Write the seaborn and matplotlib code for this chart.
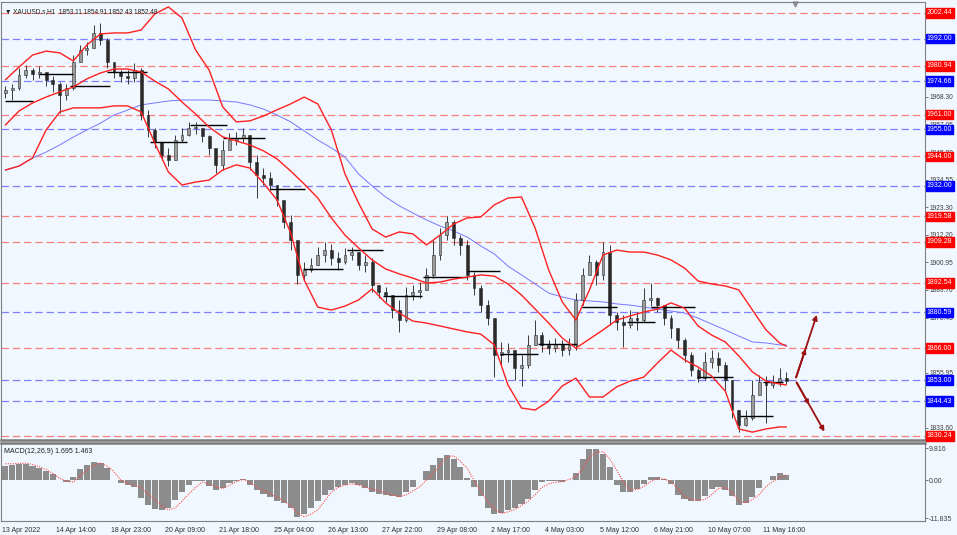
import numpy as np
import pandas as pd
import seaborn as sns
import matplotlib
matplotlib.use("Agg")
import matplotlib.pyplot as plt
from matplotlib.patches import Rectangle

# XAUUSD H1, each candle here = 4 hourly bars
closes = [1971.1, 1971.9, 1977.2, 1979.2, 1977.6, 1978.4, 1975.2, 1973.5, 1969.1, 1971.9,
          1982.5, 1987.4, 1988.2, 1994.3, 1991.4, 1982.5, 1978.4, 1976.8, 1976.0, 1979.2,
          1960.9, 1954.8, 1949.9, 1944.6, 1942.6, 1950.7, 1952.8, 1955.6, 1955.6, 1952.4,
          1947.5, 1940.6, 1946.7, 1950.7, 1951.6, 1952.8, 1941.8, 1936.5, 1935.3, 1932.4,
          1926.3, 1917.3, 1910.0, 1895.8, 1897.8, 1899.8, 1903.9, 1905.9, 1902.7, 1901.1,
          1903.9, 1905.1, 1899.8, 1901.1, 1891.7, 1888.8, 1887.6, 1881.5, 1877.4, 1887.6,
          1888.8, 1889.7, 1895.8, 1903.9, 1912.0, 1917.3, 1910.8, 1908.0, 1895.8, 1890.5,
          1883.5, 1878.2, 1863.2, 1864.4, 1865.2, 1857.9, 1859.1, 1867.3, 1871.3, 1867.3,
          1866.0, 1867.7, 1865.2, 1867.3, 1885.6, 1895.8, 1901.1, 1895.8, 1905.1, 1879.5,
          1876.6, 1875.4, 1878.2, 1877.4, 1885.6, 1886.4, 1883.5, 1878.2, 1874.2, 1869.3,
          1863.2, 1857.1, 1853.8, 1860.3, 1862.0, 1859.1, 1853.0, 1840.8, 1834.7, 1837.5,
          1846.9, 1852.2, 1851.0, 1852.2, 1853.8, 1852.5]
highs = [1972.7, 1973.5, 1980.0, 1981.3, 1980.0, 1980.9, 1978.4, 1976.8, 1974.3, 1973.5,
         1985.3, 1989.4, 1990.6, 1997.6, 1998.4, 1992.3, 1981.7, 1979.2, 1979.2, 1982.1,
         1980.0, 1963.0, 1955.6, 1949.9, 1947.5, 1952.8, 1955.6, 1958.1, 1958.1, 1955.6,
         1952.8, 1946.7, 1950.7, 1953.6, 1954.0, 1955.6, 1952.8, 1944.6, 1939.3, 1937.7,
         1932.4, 1924.3, 1920.2, 1908.0, 1901.1, 1902.7, 1907.2, 1909.2, 1908.4, 1905.1,
         1906.8, 1907.2, 1905.1, 1903.9, 1902.7, 1891.7, 1890.9, 1887.6, 1885.6, 1890.9,
         1891.7, 1892.9, 1898.6, 1910.0, 1914.9, 1919.8, 1918.2, 1912.0, 1910.0, 1897.0,
         1891.7, 1885.6, 1878.2, 1868.5, 1868.1, 1865.2, 1863.2, 1871.3, 1877.4, 1872.6,
         1869.3, 1870.1, 1869.3, 1870.1, 1888.4, 1898.6, 1903.9, 1901.9, 1909.2, 1908.0,
         1880.7, 1879.5, 1881.5, 1880.7, 1890.5, 1892.5, 1886.8, 1883.5, 1879.5, 1874.2,
         1870.1, 1864.4, 1857.9, 1864.4, 1865.2, 1864.4, 1860.3, 1851.0, 1840.8, 1840.8,
         1853.0, 1855.0, 1854.6, 1855.0, 1857.9, 1856.3]
lows = [1967.8, 1967.0, 1971.1, 1976.0, 1975.2, 1976.0, 1972.7, 1970.3, 1961.7, 1967.0,
        1971.1, 1982.5, 1985.3, 1988.2, 1989.4, 1980.0, 1976.0, 1974.3, 1973.5, 1974.3,
        1958.9, 1952.0, 1947.5, 1942.6, 1940.1, 1942.6, 1949.9, 1952.4, 1953.2, 1949.9,
        1944.6, 1937.3, 1938.5, 1947.9, 1948.7, 1949.9, 1938.5, 1927.1, 1932.4, 1930.4,
        1923.9, 1914.9, 1905.9, 1892.1, 1893.7, 1897.0, 1899.8, 1901.1, 1899.8, 1897.8,
        1900.2, 1901.9, 1897.8, 1897.0, 1888.8, 1886.4, 1884.8, 1878.2, 1872.6, 1876.6,
        1885.6, 1886.4, 1889.7, 1894.5, 1901.9, 1910.0, 1908.0, 1903.9, 1893.7, 1887.6,
        1880.7, 1875.4, 1854.2, 1859.1, 1860.3, 1853.0, 1850.6, 1857.9, 1867.3, 1864.4,
        1863.6, 1864.4, 1862.8, 1863.2, 1865.2, 1883.5, 1897.0, 1891.7, 1893.7, 1875.4,
        1873.4, 1866.4, 1874.2, 1873.4, 1876.6, 1883.1, 1880.7, 1875.4, 1870.1, 1866.0,
        1860.3, 1854.6, 1852.2, 1853.0, 1857.9, 1856.3, 1848.9, 1837.5, 1831.8, 1834.3,
        1836.7, 1848.1, 1835.5, 1849.7, 1850.6, 1851.4]
first_open = 1970.0

# Bollinger bands and moving average, sampled every 2 candles
band_idx = list(range(0, 115, 2)) + [115]
bb_upper = [1975.2, 1980.4, 1985.3, 1986.9, 1986.2, 1982.9, 1989.4, 1993.9, 1994.3, 1994.3,
            1995.5, 2002.0, 2004.9, 2000.4, 1987.4, 1979.2, 1964.2, 1958.1, 1958.5, 1960.5,
            1963.0, 1965.4, 1968.2, 1965.4, 1954.8, 1936.9, 1925.1, 1914.5, 1911.2, 1913.3,
            1912.5, 1908.0, 1912.0, 1916.5, 1919.0, 1919.4, 1924.3, 1927.1, 1927.5, 1914.9,
            1897.8, 1884.8, 1877.4, 1889.7, 1903.9, 1905.9, 1905.1, 1905.1, 1903.9, 1901.9,
            1898.6, 1893.3, 1892.1, 1891.3, 1889.7, 1881.5, 1873.4, 1868.1, 1866.8]
bb_middle = [1956.8, 1962.5, 1965.8, 1968.2, 1970.3, 1972.3, 1975.6, 1978.0, 1979.6, 1979.6,
             1978.4, 1974.7, 1971.5, 1966.2, 1961.3, 1956.0, 1952.0, 1950.3, 1948.7, 1946.3,
             1943.0, 1938.1, 1932.8, 1927.1, 1919.0, 1912.0, 1906.8, 1901.9, 1898.2, 1896.2,
             1894.5, 1892.5, 1892.9, 1894.1, 1894.9, 1895.8, 1895.3, 1892.1, 1887.6, 1881.9,
             1876.2, 1870.1, 1866.0, 1869.7, 1873.4, 1877.4, 1879.1, 1880.7, 1881.9, 1884.4,
             1882.3, 1875.0, 1871.3, 1868.5, 1862.8, 1856.3, 1852.6, 1851.4, 1851.0]
bb_lower = [1938.5, 1940.1, 1943.4, 1954.8, 1962.1, 1963.8, 1963.8, 1963.8, 1964.6, 1964.6,
            1962.1, 1949.5, 1937.7, 1932.4, 1933.6, 1934.4, 1938.5, 1940.6, 1939.3, 1933.2,
            1926.3, 1912.9, 1893.7, 1882.7, 1881.5, 1883.1, 1885.6, 1890.1, 1884.4, 1880.3,
            1877.0, 1876.2, 1875.0, 1873.8, 1872.6, 1871.7, 1867.3, 1851.0, 1841.6, 1840.8,
            1844.4, 1850.6, 1853.8, 1846.1, 1846.1, 1850.2, 1852.6, 1854.2, 1859.9, 1865.2,
            1861.2, 1858.3, 1854.6, 1848.5, 1833.1, 1831.8, 1833.1, 1833.9, 1833.9]
ma_line = [1938.5, 1940.1, 1943.4, 1945.8, 1948.7, 1951.9, 1954.8, 1957.6, 1960.9, 1962.9,
           1965.0, 1965.8, 1966.6, 1967.0, 1967.0, 1967.0, 1966.6, 1966.2, 1965.0, 1963.3,
           1960.9, 1958.1, 1954.4, 1950.7, 1947.5, 1943.8, 1936.9, 1932.0, 1927.5, 1923.9,
           1921.0, 1918.2, 1915.7, 1913.7, 1911.2, 1907.6, 1904.3, 1899.4, 1895.8, 1892.1,
           1888.4, 1886.8, 1885.6, 1885.2, 1884.8, 1884.0, 1883.5, 1882.7, 1881.9, 1881.1,
           1880.3, 1878.2, 1875.8, 1873.4, 1870.9, 1868.5, 1868.1, 1867.3, 1867.3]

# MACD(12,26,9) histogram and signal per candle
macd_hist = [4.3, 4.5, 5.0, 5.0, 4.4, 3.6, 2.7, 1.8, 0.0, -0.5,
             0.8, 3.4, 4.6, 5.4, 5.3, 3.6, 0.0, -1.0, -1.5, -2.0,
             -5.5, -7.8, -8.9, -9.2, -8.5, -6.0, -3.8, -1.6, -0.3, -0.4,
             -1.8, -3.0, -2.6, -1.0, -0.2, 0.4, -1.5, -3.2, -4.2, -5.2,
             -6.3, -7.2, -8.5, -11.5, -10.5, -8.5, -6.5, -4.5, -3.0, -2.0,
             -1.5, -1.0, -1.6, -2.4, -3.6, -4.2, -4.5, -4.8, -5.2, -3.8,
             -2.0, 0.0, 2.8, 4.6, 6.8, 7.6, 6.5, 4.0, 0.5, -2.2,
             -5.0, -8.6, -10.3, -10.0, -9.3, -8.6, -7.4, -5.8, -3.2, -0.5,
             -0.2, -0.4, -0.5, 0.0, 2.2, 6.5, 9.5, 9.6, 8.0, 4.0,
             -1.5, -3.6, -3.6, -2.8, -1.2, 1.0, 0.9, 0.3, -1.2, -4.5,
             -5.8, -6.3, -6.6, -5.0, -2.9, -2.2, -3.0, -4.8, -7.6, -7.0,
             -5.2, -2.4, 0.0, 1.3, 2.1, 1.7]
macd_signal = [5.0, 5.0, 5.1, 5.2, 4.8, 4.1, 3.2, 2.0, 0.5, -0.3,
               -0.7, 1.2, 3.0, 4.5, 5.2, 4.3, 2.5, 0.0, -1.0, -1.6,
               -2.3, -4.3, -6.0, -8.0, -9.2, -8.6, -6.5, -4.3, -2.3, -0.6,
               -1.2, -2.2, -2.6, -1.6, -0.5, 0.2, -0.8, -2.2, -3.2, -4.2,
               -5.3, -6.4, -8.0, -10.0, -11.3, -10.5, -9.2, -6.5, -3.8, -2.3,
               -1.5, -1.2, -1.5, -2.2, -2.8, -3.3, -4.0, -4.6, -5.1, -4.6,
               -3.3, -2.1, 0.0, 2.1, 4.5, 7.0, 7.5, 5.8, 3.6, 0.0,
               -3.5, -6.5, -8.8, -10.3, -9.8, -9.1, -7.8, -6.5, -4.5, -2.3,
               -1.2, -0.7, -0.5, 0.2, 1.0, 3.5, 7.0, 8.5, 8.8, 6.5,
               3.1, -0.5, -3.1, -2.9, -2.0, -0.5, 0.5, 0.3, -0.6, -2.5,
               -5.0, -6.0, -6.2, -6.0, -4.5, -2.6, -2.3, -3.8, -6.5, -7.0,
               -6.0, -4.5, -2.0, -0.5, 0.8, 1.5]

# horizontal levels
red_levels = [2002.44, 1980.94, 1961.00, 1944.00, 1919.58, 1909.28, 1892.54, 1866.00, 1830.24]
blue_levels = [1992.00, 1974.66, 1955.00, 1932.00, 1880.59, 1853.00, 1844.43]

# daily open segments (start candle, end candle, price)
seg_start = [0, 5, 9.5, 15, 21.3, 27.2, 32, 39, 43.8, 50.3, 55.6, 61.5, 68, 72.8, 78.4,
             84.9, 91.5, 95, 101.9, 108.2, 111.6]
seg_end = [4, 10, 15.4, 20.9, 26.7, 32.6, 38.2, 44.1, 49.7, 55.6, 61.4, 68, 72.8, 78.4, 84.2,
           90, 95.7, 101.6, 107.2, 113, 114.5]
seg_price = [1966.6, 1977.6, 1972.7, 1978.4, 1949.9, 1956.8, 1951.6, 1930.8, 1898.2, 1905.9,
             1887.2, 1894.9, 1897.4, 1863.6, 1867.7, 1882.7, 1876.6, 1882.7, 1854.2, 1838.3,
             1852.2]

price_ticks = [1833.60, 1855.95, 1867.20, 1878.45, 1889.70, 1900.95, 1912.20,
               1923.30, 1934.55, 1945.80, 1957.05, 1968.30]
time_labels = ["13 Apr 2022", "14 Apr 14:00", "18 Apr 23:00", "20 Apr 09:00", "21 Apr 18:00",
               "25 Apr 04:00", "26 Apr 13:00", "27 Apr 22:00", "29 Apr 08:00", "2 May 17:00",
               "4 May 03:00", "5 May 12:00", "6 May 21:00", "10 May 07:00", "11 May 16:00"]

sns.set_theme(style="white")
plt.rcParams["font.family"] = ["Liberation Sans", "DejaVu Sans"]
bg = "#f0f7fe"

fig = plt.figure(figsize=(9.57, 5.35), dpi=100, facecolor=bg)
ax = fig.add_axes([0.001, 0.1776, 0.9655, 0.8187])
mx = fig.add_axes([0.001, 0.0262, 0.9655, 0.1458])

n = len(closes)
idx = np.arange(n)
df = pd.DataFrame({"idx": idx, "close": closes, "high": highs, "low": lows})
df["open"] = [first_open] + closes[:-1]
bands = pd.DataFrame({"idx": band_idx, "upper": bb_upper, "middle": bb_middle,
                      "lower": bb_lower, "ma": ma_line})

for a in (ax, mx):
    a.set_facecolor(bg)
    a.set_xlim(-0.65, 135.4)
    for s in a.spines.values():
        s.set_color("#808080")
        s.set_linewidth(0.8)

ax.set_ylim(1828.6, 2006.9)

for lv in red_levels:
    ax.axhline(lv, color="#ff6a6a", lw=0.9, dashes=(6, 3), alpha=0.85, zorder=1)
for lv in blue_levels:
    ax.axhline(lv, color="#6a6aff", lw=0.9, dashes=(6, 3), alpha=0.85, zorder=1)

# candles
ax.vlines(df["idx"], df["low"], df["high"], color="#3a3a3a", lw=0.7, zorder=3)
w = 0.42
for _, r in df.iterrows():
    lo = min(r["open"], r["close"])
    h = max(abs(r["close"] - r["open"]), 0.3)
    fc = "#9c9c9c" if r["close"] >= r["open"] else "#2a2a2a"
    ax.add_patch(Rectangle((r["idx"] - w / 2, lo), w, h, facecolor=fc,
                           edgecolor="#2a2a2a", lw=0.4, zorder=4))

ax.hlines(seg_price, seg_start, seg_end, color="black", lw=1.0, zorder=5)

sns.lineplot(data=bands, x="idx", y="ma", ax=ax, color="#7878ff", lw=0.7, zorder=2)
for col in ["upper", "middle", "lower"]:
    sns.lineplot(data=bands, x="idx", y=col, ax=ax, color="#ff2020", lw=1.0, zorder=6)

# projection arrows
last = n - 1
a_start = (last + 1.3, blue_levels[5])
a_up = (last + 4.6, blue_levels[4])
a_dn = (last + 5.8, red_levels[8] + 0.8)
for tgt in (a_up, a_dn):
    ax.annotate("", xy=tgt, xytext=a_start,
                arrowprops=dict(arrowstyle="-|>", color="#9b1010", lw=1.3,
                                mutation_scale=7), zorder=7)
    mid = ((a_start[0] + tgt[0]) / 2, (a_start[1] + tgt[1]) / 2)
    ax.annotate("", xy=mid, xytext=a_start,
                arrowprops=dict(arrowstyle="-|>", color="#9b1010", lw=1.3,
                                mutation_scale=6), zorder=7)

ax.yaxis.tick_right()
ax.set_yticks(price_ticks)
ax.set_yticklabels([f"{t:.2f}" for t in price_ticks])
ax.tick_params(axis="y", length=2, width=0.6, color="#606060", labelsize=4.8,
               labelcolor="#404040", pad=1)
ax.set_xticks([])
ax.set_xlabel("")
ax.set_ylabel("")

for lv, c in [(l, "#ff0000") for l in red_levels] + [(l, "#0000ff") for l in blue_levels]:
    ax.text(1.002, lv, f"{lv:.2f}", transform=ax.get_yaxis_transform(), ha="left",
            va="center", fontsize=5, color="white", zorder=10, clip_on=False,
            bbox=dict(boxstyle="square,pad=0.18", fc=c, ec=c))

ax.text(0.004, 0.986, "\u25bc XAUUSD.s,H1  1853.11 1854.91 1852.43 1852.48",
        transform=ax.transAxes, fontsize=4.7, color="#202020", va="top", ha="left",
        zorder=11)
ax.plot([last + 1.3], [2006.2], marker="v", color="#909090", ms=3.5, clip_on=False)
ax.spines["bottom"].set_linewidth(1.8)
ax.spines["bottom"].set_color("#7a7a7a")

# MACD panel
mx.bar(idx, macd_hist, width=0.9, color="#8c8c8c", edgecolor="none", zorder=2)
sns.lineplot(x=idx, y=macd_signal, ax=mx, color="#ff4a4a", lw=0.8, linestyle=(0, (1, 1.2)),
             zorder=3)
mx.set_ylim(-12.6, 11.4)
mx.yaxis.tick_right()
mx.set_yticks([9.816, 0.0, -11.835])
mx.set_yticklabels(["9.816", "0.00", "-11.835"])
mx.tick_params(axis="y", length=2, width=0.6, color="#606060", labelsize=5,
               labelcolor="#404040", pad=1)
mx.set_xticks([-0.5 + 8 * k for k in range(len(time_labels))])
mx.set_xticklabels(time_labels, ha="left")
mx.tick_params(axis="x", length=2, width=0.6, color="#606060", labelsize=5,
               labelcolor="#303030", pad=2)
mx.set_xlabel("")
mx.set_ylabel("")
mx.spines["top"].set_linewidth(1.8)
mx.spines["top"].set_color("#7a7a7a")
mx.text(0.003, 0.93, "MACD(12,26,9) 1.695 1.463", transform=mx.transAxes, fontsize=5,
        color="#202020", va="top", ha="left")

fig.savefig("out.png", dpi=100, facecolor=bg)
